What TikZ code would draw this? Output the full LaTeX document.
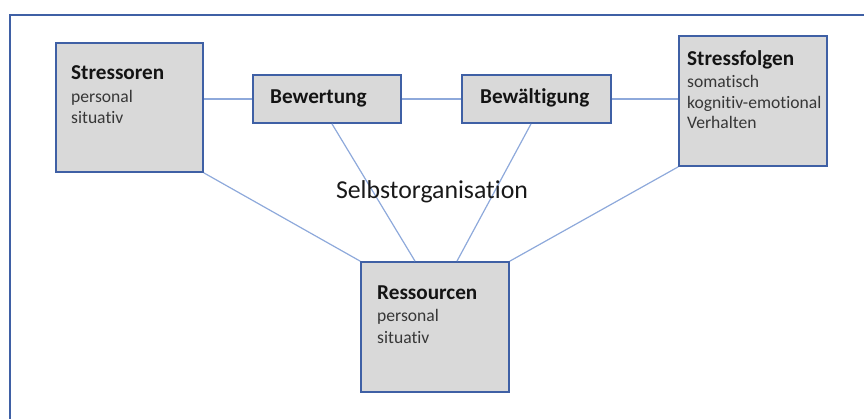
\documentclass[tikz,border=0pt]{standalone}
\usepackage{fontspec}
\setmainfont[Ligatures={NoCommon}]{Carlito}
\usetikzlibrary{calc}
\definecolor{boxborder}{RGB}{63,96,165}
\definecolor{boxfill}{RGB}{217,217,217}
\definecolor{conn}{RGB}{142,169,219}
\definecolor{subtext}{RGB}{55,55,55}
\begin{document}
\begin{tikzpicture}[x=1pt,y=-1pt,
  box/.style={draw=boxborder, fill=boxfill, line width=1.8pt, inner sep=0pt},
  link/.style={draw=conn, line width=1.2pt},
  frameline/.style={draw=boxborder, line width=1.8pt},
  title/.style={anchor=base west, inner sep=0pt, text=black!92, font=\fontsize{21.2}{25}\selectfont\bfseries},
  sub/.style={anchor=base west, inner sep=0pt, text=subtext, font=\fontsize{17.6}{21}\selectfont},
  center/.style={anchor=base, inner sep=0pt, text=black!90, font=\fontsize{25.8}{30}\selectfont}]
\useasboundingbox (0,0) rectangle (864,419);
% outer frame
\coordinate (ftl) at (10,15);
\coordinate (ftr) at (864,15);
\coordinate (fbl) at (10,419);
\draw[frameline] (fbl) -- (ftl) -- (ftr);
% boxes
\node[box, minimum width=147pt, minimum height=129pt] (str) at (129.5,107.5) {};
\node[box, minimum width=148pt, minimum height=48pt] (bew) at (327,99) {};
\node[box, minimum width=149pt, minimum height=48pt] (bewa) at (536.5,99) {};
\node[box, minimum width=148pt, minimum height=130pt] (sf) at (753,101) {};
\node[box, minimum width=148pt, minimum height=130pt] (res) at (435,327) {};
% connectors
\draw[link] (bew.west) -- (bew.west -| str.east);
\draw[link] (bew.east) -- (bewa.west);
\draw[link] (bewa.east) -- (bewa.east -| sf.west);
\draw[link] (str.south east) -- (res.north west);
\draw[link] (sf.south west) -- (res.north east);
\draw[link] ($(bew.south)+(5,0)$) -- ($(res.north)+(-20,0)$);
\draw[link] ($(bewa.south)+(-5.5,0)$) -- ($(res.north)+(22,0)$);
% texts
\node[title] (strT) at (71,80) {Stressoren};
\node[sub] (strA) at (71,103) {personal};
\node[sub] (strB) at (71,124) {situativ};
\node[title] (bewT) at (270,104) {Bewertung};
\node[title] (bewaT) at (480,104) {Bewältigung};
\node[title] (sfT) at (687,66) {Stressfolgen};
\node[sub] (sfA) at (687,88) {somatisch};
\node[sub] (sfB) at (687,109) {kognitiv-emotional};
\node[sub] (sfC) at (687,129) {Verhalten};
\node[title] (resT) at (377,300) {Ressourcen};
\node[sub] (resA) at (377,322) {personal};
\node[sub] (resB) at (377,343) {situativ};
\node[center] (selbst) at (432,199) {Selbstorganisation};
\end{tikzpicture}
\end{document}
